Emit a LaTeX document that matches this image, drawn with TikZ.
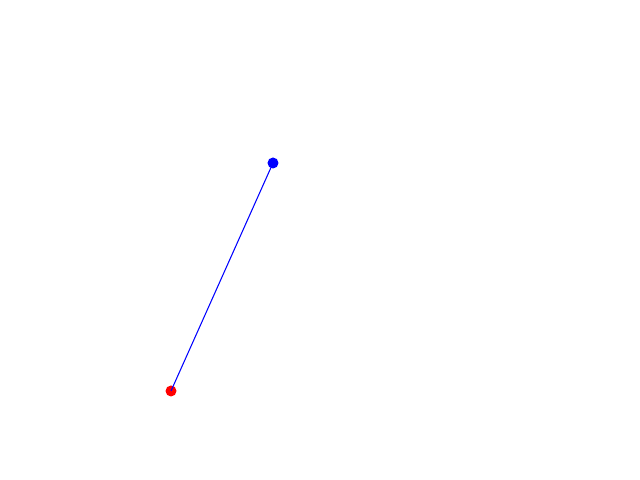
\documentclass[tikz,border=0pt]{standalone}
\begin{document}
\begin{tikzpicture}[every node/.style={font=\small}]
\tikzset{pt/.style={circle, inner sep=0pt, minimum size=0.11cm}}
% --- cornice ---
\useasboundingbox (0,0) rectangle (6.4,4.8);
% --- punti ---
\node[pt, fill=red] (p0) at (1.71,0.89) {};
\node[pt, fill=blue] (p1) at (2.73,3.17) {};
\draw[blue, line width=0.3pt] (p0.center)--(p1.center);
\end{tikzpicture}
\end{document}
